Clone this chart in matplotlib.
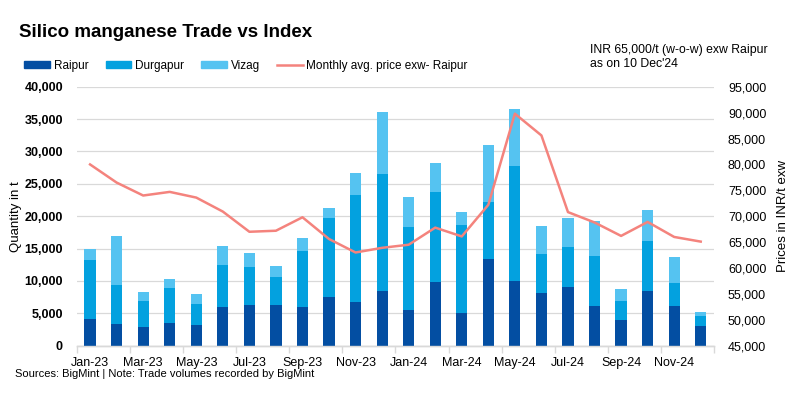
import numpy as np
import matplotlib
matplotlib.use("Agg")
from matplotlib import pyplot as plt
from matplotlib.patches import Patch
from matplotlib.lines import Line2D
from matplotlib.ticker import FuncFormatter

months = [
    "Jan-23", "Feb-23", "Mar-23", "Apr-23", "May-23", "Jun-23",
    "Jul-23", "Aug-23", "Sep-23", "Oct-23", "Nov-23", "Dec-23",
    "Jan-24", "Feb-24", "Mar-24", "Apr-24", "May-24", "Jun-24",
    "Jul-24", "Aug-24", "Sep-24", "Oct-24", "Nov-24", "Dec-24",
]
raipur = [4100, 3350, 2900, 3500, 3200, 6000, 6300, 6300, 6000, 7550, 6750, 8450,
          5500, 9850, 5050, 13400, 10000, 8150, 9050, 6150, 3950, 8450, 6150, 3050]
durgapur = [9150, 6050, 4000, 5400, 3250, 6450, 5850, 4300, 8650, 12200, 16550, 18100,
            12850, 13900, 13600, 8800, 17800, 6050, 6200, 7700, 2950, 7750, 3550, 1550]
vizag = [1700, 7550, 1400, 1400, 1550, 2950, 2150, 1700, 2000, 1550, 3400, 9550,
         4650, 4500, 2000, 8850, 8800, 4350, 4500, 5400, 1850, 4800, 4000, 600]
price = [80000, 76500, 74000, 74700, 73600, 70900, 67000, 67200, 69800, 65600, 63000, 63900,
         64500, 67800, 66100, 72200, 89800, 85600, 70800, 68800, 66200, 68900, 66000, 65100]

c_raipur = "#034EA2"
c_durg = "#03A1DF"
c_vizag = "#55C3F1"
c_line = "#F4837D"
grid_c = "#D9D9D9"

plt.rcParams["font.family"] = ["Liberation Sans", "DejaVu Sans"]

fig = plt.figure(figsize=(8, 3.98), dpi=100)
ax = fig.add_axes([0.096, 0.1314, 0.7965, 0.6506])
ax2 = ax.twinx()

x = np.arange(len(months))
r = np.array(raipur)
d = np.array(durgapur)
v = np.array(vizag)
w = 0.42
ax.bar(x, r, w, color=c_raipur, zorder=3)
ax.bar(x, d, w, bottom=r, color=c_durg, zorder=3)
ax.bar(x, v, w, bottom=r + d, color=c_vizag, zorder=3)

ax2.plot(x, price, color=c_line, lw=1.8, zorder=4)

ax.set_xlim(-0.5, len(months) - 0.5)
ax.set_ylim(0, 40000)
ax.set_yticks(np.arange(0, 40001, 5000))
ax.yaxis.set_major_formatter(FuncFormatter(lambda val, p: f"{int(val):,}"))
ax.grid(axis="y", color=grid_c, lw=0.9, zorder=0)
ax.set_axisbelow(True)

ax2.set_ylim(45000, 95000)
ax2.set_yticks(np.arange(45000, 95001, 5000))
ax2.yaxis.set_major_formatter(FuncFormatter(lambda val, p: f"{int(val):,}"))

for a in (ax, ax2):
    for s in ("top", "left", "right"):
        a.spines[s].set_visible(False)
    a.spines["bottom"].set_color(grid_c)
    a.spines["bottom"].set_linewidth(1.0)

ax.tick_params(axis="y", length=0, labelsize=9, pad=10)
for lbl in ax.get_yticklabels():
    lbl.set_fontweight("bold")
ax2.tick_params(axis="y", length=0, labelsize=9, pad=10)

# labels on every other month, tick marks at the category boundaries
ax.set_xticks(x[::2])
ax.set_xticklabels(months[::2], fontsize=9)
ax.tick_params(axis="x", length=0, pad=8)
ax.set_xticks(np.arange(-0.5, len(months), 2), minor=True)
ax.tick_params(axis="x", which="minor", length=5, color=grid_c, width=1.0)

ax.set_ylabel("Quantity in t", fontsize=9.5, labelpad=2)
ax2.set_ylabel("Prices in INR/t exw", fontsize=9.5, labelpad=8)

fig.text(0.024, 0.918, "Silico manganese Trade vs Index", fontsize=13.5,
         fontweight="bold", va="center", ha="left")

handles = [
    Patch(color=c_raipur, label="Raipur"),
    Patch(color=c_durg, label="Durgapur"),
    Patch(color=c_vizag, label="Vizag"),
    Line2D([0], [0], color=c_line, lw=1.8, label="Monthly avg. price exw- Raipur"),
]
fig.legend(handles=handles, loc="center left", bbox_to_anchor=(0.02, 0.835),
           ncol=4, frameon=False, fontsize=8.5, handlelength=2.2, handleheight=0.45,
           handletextpad=0.3, columnspacing=1.45, borderpad=0.2)

fig.text(0.737, 0.857, "INR 65,000/t (w-o-w) exw Raipur\nas on 10 Dec'24",
         fontsize=8.8, va="center", ha="left", linespacing=1.25)

fig.text(0.019, 0.06, "Sources: BigMint | Note: Trade volumes recorded by BigMint",
         fontsize=8, va="center", ha="left")

fig.savefig("out.png", dpi=100)
